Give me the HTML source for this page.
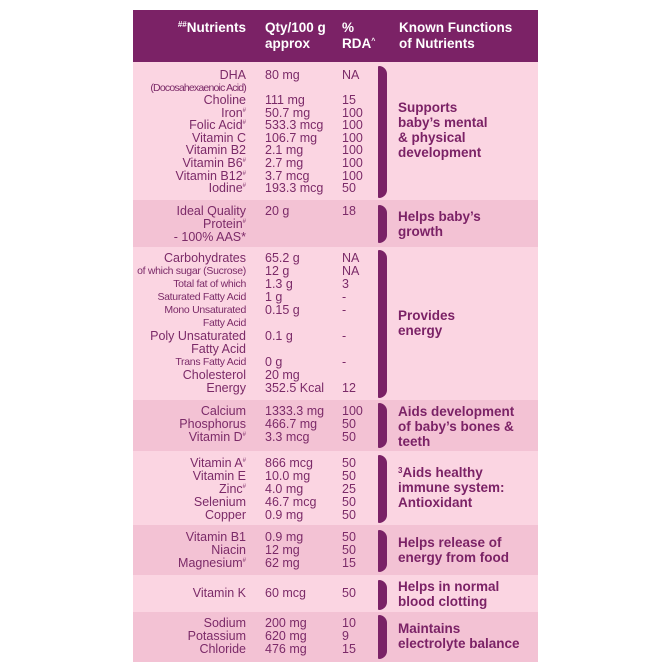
<!DOCTYPE html>
<html><head><style>
body{margin:0;width:671px;height:671px;background:#fff;position:relative;overflow:hidden;font-family:"Liberation Sans",sans-serif;}
.s{position:absolute;left:133px;width:405px}
.t{position:absolute;font-size:12.5px;line-height:13px;color:#7b2a68;white-space:nowrap}
.n{right:425px;text-align:right}
.q{left:265px}.r{left:342px}
.f{left:398px;font-weight:bold;font-size:13.5px;line-height:15px;color:#7b2266}
.h{color:#fff;font-weight:bold;font-size:13.5px;line-height:16px}
.b{position:absolute;left:378px;width:9px;background:#7a2266;border-radius:1px 8px 8px 1px}
.sm{font-size:10.5px;letter-spacing:-0.3px}
.x{font-size:6px;position:relative;top:-5px;line-height:0;vertical-align:baseline}
</style></head><body>
<div class="s" style="top:10px;height:52px;background:#7b2266"></div>
<div class="s" style="top:62px;height:138px;background:#fbd5e2"></div>
<div class="s" style="top:200px;height:47px;background:#f3c2d4"></div>
<div class="s" style="top:247px;height:153px;background:#fbd5e2"></div>
<div class="s" style="top:400px;height:51px;background:#f3c2d4"></div>
<div class="s" style="top:451px;height:74px;background:#fbd5e2"></div>
<div class="s" style="top:525px;height:50px;background:#f3c2d4"></div>
<div class="s" style="top:575px;height:37px;background:#fbd5e2"></div>
<div class="s" style="top:612px;height:50px;background:#f3c2d4"></div>

<div class="t h n" style="top:20px"><span class="x" style="font-size:8px">##</span>Nutrients</div>
<div class="t h q" style="top:20px">Qty/100 g<br>approx</div>
<div class="t h r" style="top:20px">%<br>RDA<span class="x" style="font-size:7px">^</span></div>
<div class="t h" style="left:399px;top:20px">Known Functions<br>of Nutrients</div>

<div class="b" style="top:66px;height:132px"></div>
<div class="b" style="top:205px;height:38px"></div>
<div class="b" style="top:250px;height:148px"></div>
<div class="b" style="top:403px;height:45px"></div>
<div class="b" style="top:455px;height:68px"></div>
<div class="b" style="top:530px;height:42px"></div>
<div class="b" style="top:580px;height:30px"></div>
<div class="b" style="top:615px;height:44px"></div>

<div class="t n" style="top:69px">DHA</div><div class="t q" style="top:69px">80 mg</div><div class="t r" style="top:69px">NA</div>
<div class="t n sm" style="top:82px;letter-spacing:-0.8px">(Docosahexaenoic Acid)</div>
<div class="t n" style="top:94px;line-height:12.6px">Choline<br>Iron<span class="x">#</span><br>Folic Acid<span class="x">#</span><br>Vitamin C<br>Vitamin B2<br>Vitamin B6<span class="x">#</span><br>Vitamin B12<span class="x">#</span><br>Iodine<span class="x">#</span></div>
<div class="t q" style="top:94px;line-height:12.6px">111 mg<br>50.7 mg<br>533.3 mcg<br>106.7 mg<br>2.1 mg<br>2.7 mg<br>3.7 mcg<br>193.3 mcg</div>
<div class="t r" style="top:94px;line-height:12.6px">15<br>100<br>100<br>100<br>100<br>100<br>100<br>50</div>
<div class="t f" style="top:100px">Supports<br>baby’s mental<br>&amp; physical<br>development</div>

<div class="t n" style="top:205px">Ideal Quality<br>Protein<span class="x">#</span><br>- 100% AAS*</div>
<div class="t q" style="top:205px">20 g</div><div class="t r" style="top:205px">18</div>
<div class="t f" style="top:209px">Helps baby’s<br>growth</div>

<div class="t n" style="top:252px">Carbohydrates</div><div class="t q" style="top:252px">65.2 g</div><div class="t r" style="top:252px">NA</div>
<div class="t n sm" style="top:265px">of which sugar (Sucrose)</div><div class="t q" style="top:265px">12 g</div><div class="t r" style="top:265px">NA</div>
<div class="t n sm" style="top:278px">Total fat of which</div><div class="t q" style="top:278px">1.3 g</div><div class="t r" style="top:278px">3</div>
<div class="t n sm" style="top:291px">Saturated Fatty Acid</div><div class="t q" style="top:291px">1 g</div><div class="t r" style="top:291px">-</div>
<div class="t n sm" style="top:304px">Mono Unsaturated</div><div class="t q" style="top:304px">0.15 g</div><div class="t r" style="top:304px">-</div>
<div class="t n sm" style="top:317px">Fatty Acid</div>
<div class="t n" style="top:330px">Poly Unsaturated</div><div class="t q" style="top:330px">0.1 g</div><div class="t r" style="top:330px">-</div>
<div class="t n" style="top:343px">Fatty Acid</div>
<div class="t n sm" style="top:356px">Trans Fatty Acid</div><div class="t q" style="top:356px">0 g</div><div class="t r" style="top:356px">-</div>
<div class="t n" style="top:369px">Cholesterol</div><div class="t q" style="top:369px">20 mg</div>
<div class="t n" style="top:382px">Energy</div><div class="t q" style="top:382px">352.5 Kcal</div><div class="t r" style="top:382px">12</div>
<div class="t f" style="top:308px">Provides<br>energy</div>

<div class="t n" style="top:405px">Calcium<br>Phosphorus<br>Vitamin D<span class="x">#</span></div>
<div class="t q" style="top:405px">1333.3 mg<br>466.7 mg<br>3.3 mcg</div>
<div class="t r" style="top:405px">100<br>50<br>50</div>
<div class="t f" style="top:404px">Aids development<br>of baby’s bones &amp;<br>teeth</div>

<div class="t n" style="top:457px">Vitamin A<span class="x">#</span><br>Vitamin E<br>Zinc<span class="x">#</span><br>Selenium<br>Copper</div>
<div class="t q" style="top:457px">866 mcg<br>10.0 mg<br>4.0 mg<br>46.7 mcg<br>0.9 mg</div>
<div class="t r" style="top:457px">50<br>50<br>25<br>50<br>50</div>
<div class="t f" style="top:465px"><span class="x" style="font-size:8px;top:-4px">3</span>Aids healthy<br>immune system:<br>Antioxidant</div>

<div class="t n" style="top:531px">Vitamin B1<br>Niacin<br>Magnesium<span class="x">#</span></div>
<div class="t q" style="top:531px">0.9 mg<br>12 mg<br>62 mg</div>
<div class="t r" style="top:531px">50<br>50<br>15</div>
<div class="t f" style="top:535px">Helps release of<br>energy from food</div>

<div class="t n" style="top:587px">Vitamin K</div><div class="t q" style="top:587px">60 mcg</div><div class="t r" style="top:587px">50</div>
<div class="t f" style="top:579px">Helps in normal<br>blood clotting</div>

<div class="t n" style="top:617px">Sodium<br>Potassium<br>Chloride</div>
<div class="t q" style="top:617px">200 mg<br>620 mg<br>476 mg</div>
<div class="t r" style="top:617px">10<br>9<br>15</div>
<div class="t f" style="top:621px">Maintains<br>electrolyte balance</div>
</body></html>
